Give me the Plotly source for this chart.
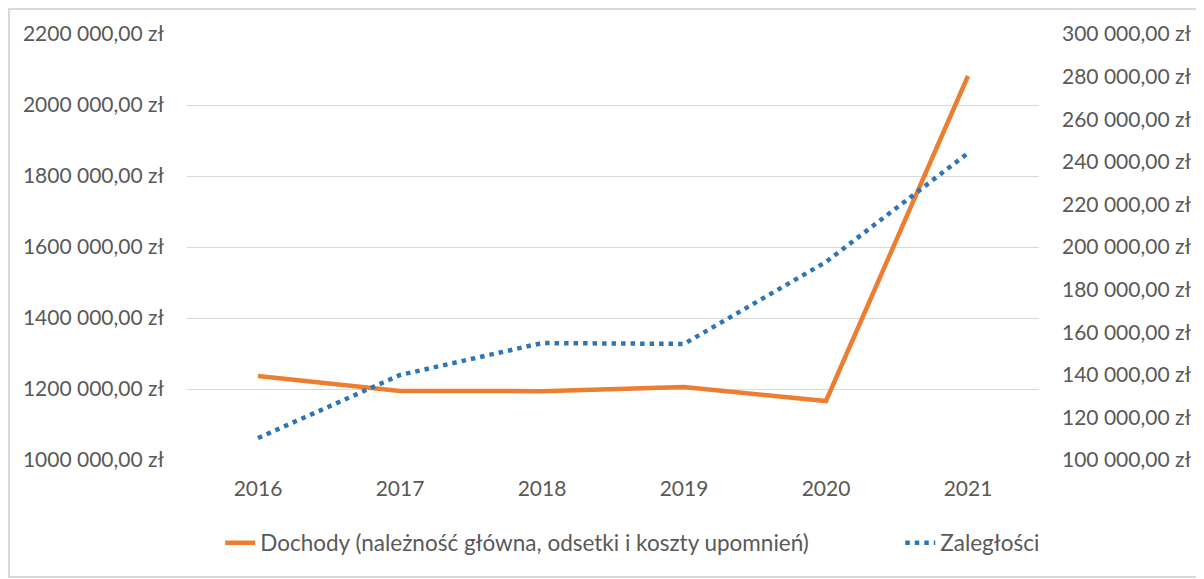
import plotly.graph_objects as go

years = ["2016", "2017", "2018", "2019", "2020", "2021"]
dochody = [1236600, 1194400, 1194000, 1205600, 1166200, 2081700]
zaleglosci = [110300, 139900, 154900, 154500, 193000, 244100]

left_ticks = [1000000, 1200000, 1400000, 1600000, 1800000, 2000000, 2200000]
left_labels = ["1000 000,00 zł", "1200 000,00 zł", "1400 000,00 zł", "1600 000,00 zł",
               "1800 000,00 zł", "2000 000,00 zł", "2200 000,00 zł"]
right_ticks = [100000, 120000, 140000, 160000, 180000, 200000, 220000, 240000, 260000, 280000, 300000]
right_labels = ["100 000,00 zł", "120 000,00 zł", "140 000,00 zł", "160 000,00 zł", "180 000,00 zł",
                "200 000,00 zł", "220 000,00 zł", "240 000,00 zł", "260 000,00 zł", "280 000,00 zł",
                "300 000,00 zł"]

FONT = "Lato"
GREY = "#595959"
FS = 21

fig = go.Figure()
fig.add_trace(go.Scatter(
    x=years, y=dochody, mode="lines",
    name="Dochody (należność główna, odsetki i koszty upomnień)" + "\u00a0" * 15,
    line=dict(color="#ED7D31", width=4.5),
))
fig.add_trace(go.Scatter(
    x=years, y=zaleglosci, mode="lines", yaxis="y2",
    name="Zaległości",
    line=dict(color="#2E75B6", width=4.5, dash="4.5px,5px"),
))

fig.update_layout(
    width=1196, height=571,
    margin=dict(l=179, r=165, t=26, b=119, autoexpand=False),
    paper_bgcolor="white", plot_bgcolor="white",
    font=dict(family=FONT, size=FS, color=GREY),
    xaxis=dict(type="category", range=[-0.5, 5.5], showgrid=False, showline=False, ticks="",
               ticklabelstandoff=14, tickfont=dict(size=FS, color=GREY)),
    yaxis=dict(range=[1000000, 2200000], tickvals=left_ticks, ticktext=left_labels,
               showgrid=True, gridcolor="#D9D9D9", gridwidth=1, zeroline=False,
               showline=False, ticks="", ticklabelstandoff=22,
               tickfont=dict(size=FS, color=GREY)),
    yaxis2=dict(range=[100000, 300000], tickvals=right_ticks, ticktext=right_labels,
                overlaying="y", side="right", showgrid=False, zeroline=False,
                showline=False, ticks="", ticklabelstandoff=22,
                tickfont=dict(size=FS, color=GREY)),
    showlegend=True,
    legend=dict(orientation="h", x=0.039, xanchor="left", y=-0.195, yanchor="middle",
                font=dict(size=22.5, color=GREY), bgcolor="rgba(0,0,0,0)"),
    shapes=[dict(type="rect", xref="paper", yref="paper",
                 x0=-0.209, x1=1.1925, y0=-0.2746, y1=1.0587,
                 line=dict(color="#D9D9D9", width=2), layer="below")],
)

fig.write_html("out.html")
